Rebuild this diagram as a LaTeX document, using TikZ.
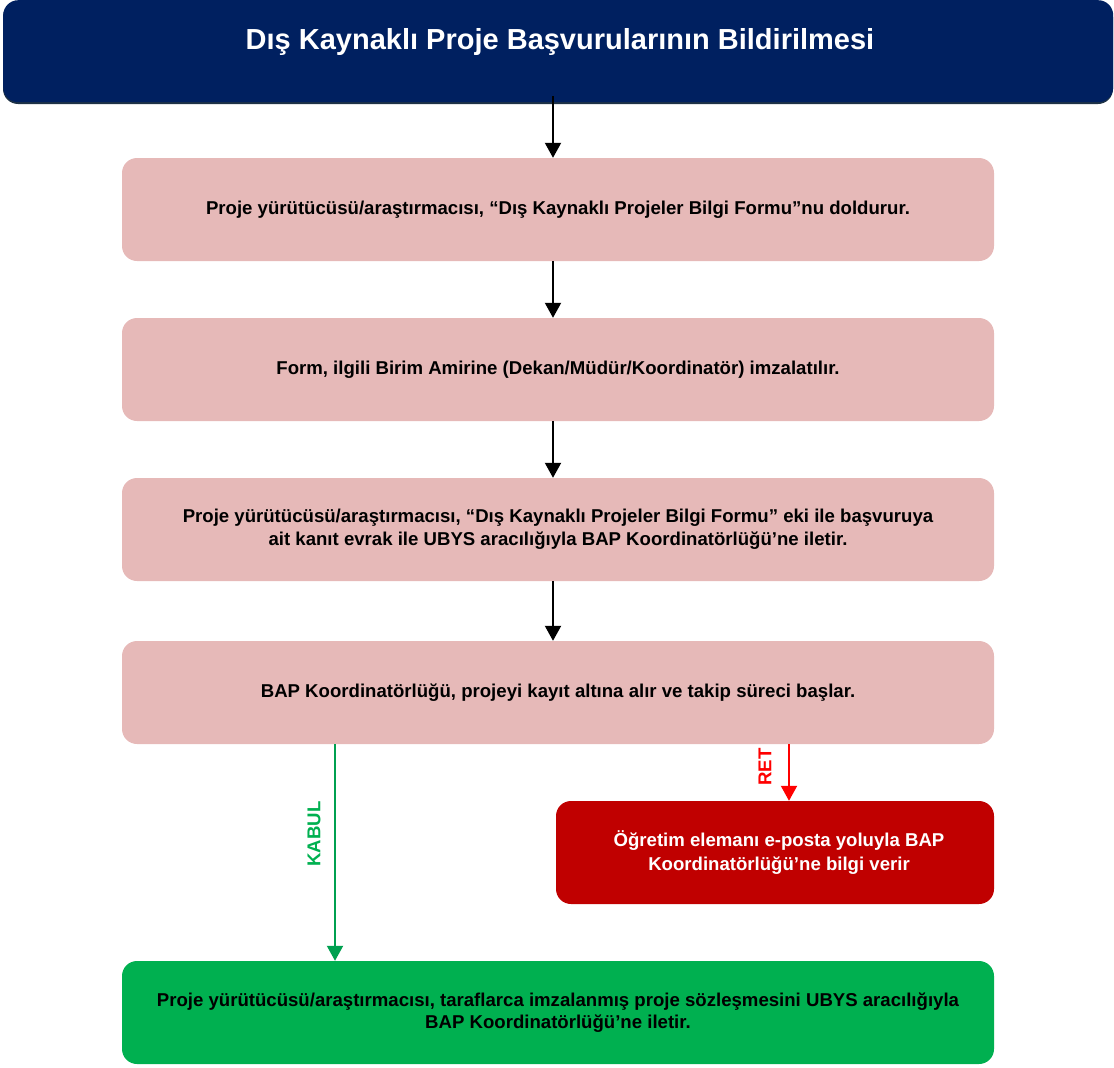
\documentclass[tikz,border=0pt]{standalone}
\usepackage{fontspec}
\setmainfont{Liberation Sans}
\usetikzlibrary{arrows.meta}
\definecolor{navy}{HTML}{002060}
\definecolor{pinkbox}{HTML}{E6B9B8}
\definecolor{redbox}{HTML}{C00000}
\definecolor{greenbox}{HTML}{00B050}
\definecolor{greenline}{HTML}{00A050}
\definecolor{redline}{HTML}{FF0000}
\tikzset{
  stepbox/.style={draw=none, fill=pinkbox, rounded corners=15pt, minimum width=872pt, minimum height=103pt, align=center, font=\bfseries\fontsize{18.6pt}{23pt}\selectfont, text=black, inner sep=0pt},
  flowarrow/.style={line width=2pt, -{Triangle[width=16pt,length=15pt]}},
  lbl/.style={font=\bfseries\fontsize{18.6pt}{20pt}\selectfont, rotate=90, inner sep=0pt}
}
\begin{document}
\begin{tikzpicture}[x=1pt,y=-1pt]
\useasboundingbox (0,0) rectangle (1114,1068);
% header
\fill[fill={rgb,255:red,30;green,50;blue,70}, rounded corners=15pt] (3,2) rectangle (1113,104);
\node[fill=navy, rounded corners=15pt, minimum width=1110pt, minimum height=102pt, inner sep=0pt, anchor=north west] (hdr) at (3,0) {};
\node[text=white, font=\bfseries\fontsize{29pt}{32pt}\selectfont, inner sep=0pt] (hdrtxt) at (560,42) {Dış Kaynaklı Proje Başvurularının Bildirilmesi};
% steps
\node[stepbox] (s1) at (558,209.5) {Proje yürütücüsü/araştırmacısı, “Dış Kaynaklı Projeler Bilgi Formu”nu doldurur.};
\node[stepbox] (s2) at (558,369.5) {Form, ilgili Birim Amirine (Dekan/Müdür/Koordinatör) imzalatılır.};
\node[stepbox] (s3) at (558,529.5) {Proje yürütücüsü/araştırmacısı, “Dış Kaynaklı Projeler Bilgi Formu” eki ile başvuruya\\ait kanıt evrak ile UBYS aracılığıyla BAP Koordinatörlüğü’ne iletir.};
\node[stepbox] (s4) at (558,692.5) {BAP Koordinatörlüğü, projeyi kayıt altına alır ve takip süreci başlar.};
\node[stepbox, fill=redbox, text=white, minimum width=438pt, font=\bfseries\fontsize{18.6pt}{24pt}\selectfont] (ret) at (775,852.5) {\hspace*{8pt}Öğretim elemanı e-posta yoluyla BAP\\\hspace*{8pt}Koordinatörlüğü’ne bilgi verir};
\node[stepbox, fill=greenbox, font=\bfseries\fontsize{18.6pt}{22pt}\selectfont] (s5) at (558,1012.5) {Proje yürütücüsü/araştırmacısı, taraflarca imzalanmış proje sözleşmesini UBYS aracılığıyla\\BAP Koordinatörlüğü’ne iletir.};
% arrows
\draw[flowarrow] (553,96) -- (s1.north -| 553,0);
\draw[flowarrow] (s1.south -| 553,0) -- (s2.north -| 553,0);
\draw[flowarrow] (s2.south -| 553,0) -- (s3.north -| 553,0);
\draw[flowarrow] (s3.south -| 553,0) -- (s4.north -| 553,0);
\draw[flowarrow, draw=greenline, fill=greenline] (s4.south -| 335,0) -- (s5.north -| 335,0);
\draw[flowarrow, draw=redline, fill=redline] (s4.south -| 789,0) -- (ret.north -| 789,0);
\node[lbl, text=greenbox] (kabul) at (314,834) {KABUL};
\node[lbl, text=redline] (retlbl) at (765,767) {RET};
\end{tikzpicture}
\end{document}
